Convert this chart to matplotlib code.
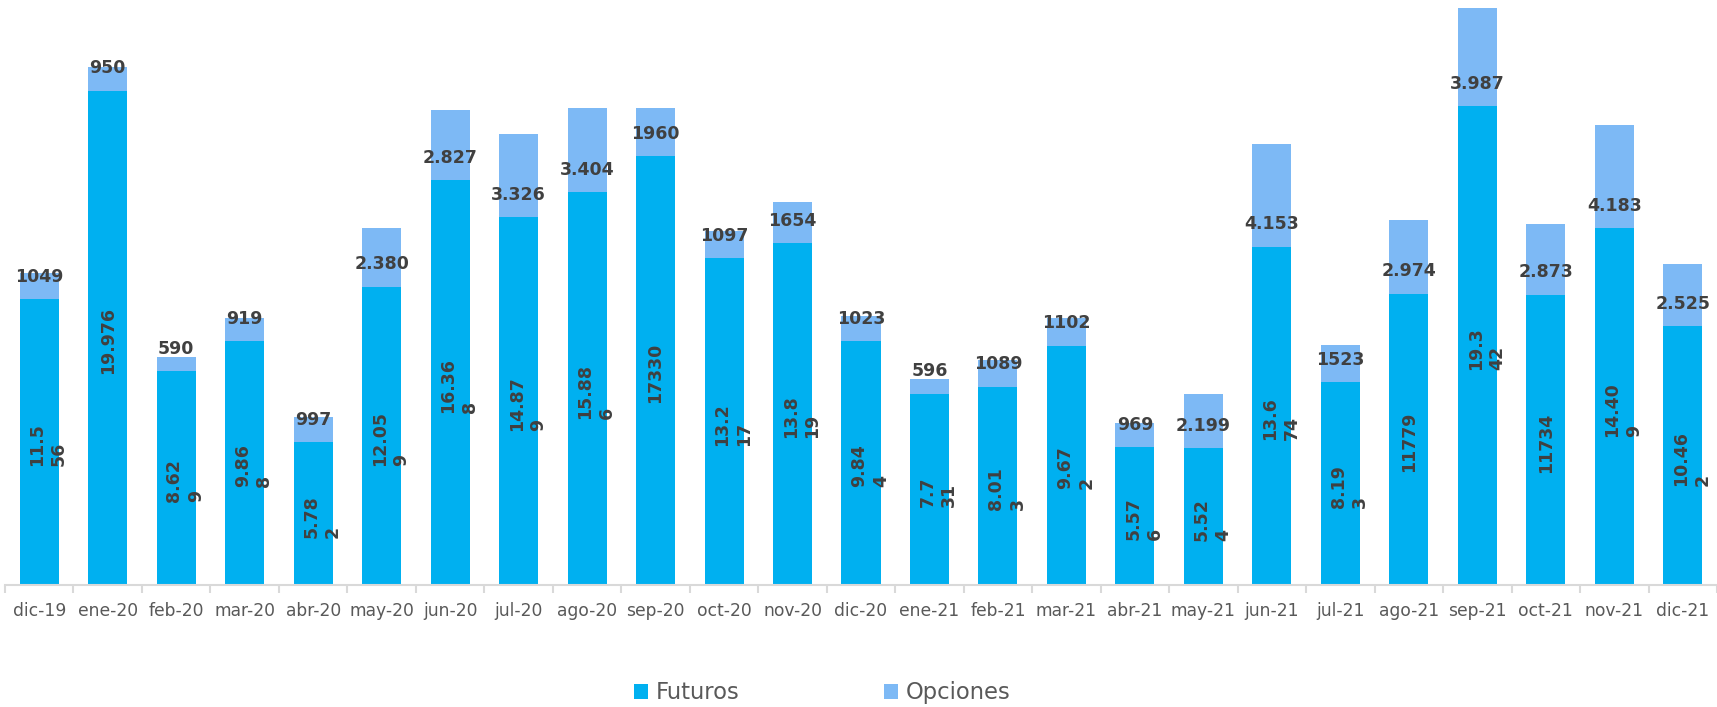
import matplotlib
matplotlib.use("Agg")
import matplotlib.pyplot as plt
import numpy as np

meses = ["dic-19", "ene-20", "feb-20", "mar-20", "abr-20", "may-20", "jun-20", "jul-20",
         "ago-20", "sep-20", "oct-20", "nov-20", "dic-20", "ene-21", "feb-21", "mar-21",
         "abr-21", "may-21", "jun-21", "jul-21", "ago-21", "sep-21", "oct-21", "nov-21", "dic-21"]

futuros = [11556, 19976, 8629, 9868, 5782, 12059, 16368, 14879, 15886, 17330, 13217, 13819,
           9844, 7731, 8013, 9672, 5576, 5524, 13674, 8193, 11779, 19342, 11734, 14409, 10462]
opciones = [1049, 950, 590, 919, 997, 2380, 2827, 3326, 3404, 1960, 1097, 1654,
            1023, 596, 1089, 1102, 969, 2199, 4153, 1523, 2974, 3987, 2873, 4183, 2525]

# labels as they appear in the chart (wrapped like the original)
fut_labels = ["11.5\n56", "19.976", "8.62\n9", "9.86\n8", "5.78\n2", "12.05\n9", "16.36\n8",
              "14.87\n9", "15.88\n6", "17330", "13.2\n17", "13.8\n19", "9.84\n4", "7.7\n31",
              "8.01\n3", "9.67\n2", "5.57\n6", "5.52\n4", "13.6\n74", "8.19\n3", "11779",
              "19.3\n42", "11734", "14.40\n9", "10.46\n2"]
opc_labels = ["1049", "950", "590", "919", "997", "2.380", "2.827", "3.326", "3.404", "1960",
              "1097", "1654", "1023", "596", "1089", "1102", "969", "2.199", "4.153", "1523",
              "2.974", "3.987", "2.873", "4.183", "2.525"]

c_fut = "#00B0F0"
c_opc = "#7DB9F5"
txt = "#404040"

fig = plt.figure(figsize=(17.17, 7.07), dpi=100)
ax = fig.add_axes([5 / 1717, 1 - 585 / 707, 1 - 5 / 1717, 585 / 707])

x = np.arange(len(meses))
w = 0.57
ax.bar(x, futuros, width=w, color=c_fut, label="Futuros")
ax.bar(x, opciones, width=w, bottom=futuros, color=c_opc, label="Opciones")

for i in range(len(meses)):
    dx = 6.5 if "\n" in fut_labels[i] else 0
    ax.annotate(fut_labels[i], (x[i], futuros[i] / 2), xytext=(dx, -2), textcoords="offset points",
                rotation=90, ha="center", va="center", multialignment="left",
                fontsize=12.5, fontweight="bold", color=txt, linespacing=1.25)
    ax.annotate(opc_labels[i], (x[i], futuros[i]), xytext=(0, 16), textcoords="offset points",
                ha="center", va="center", fontsize=12.5, fontweight="bold", color=txt)

ax.set_xlim(-0.5, len(meses) - 0.5)
ax.set_ylim(0, 23640)
ax.set_yticks([])
for s in ["top", "right", "left"]:
    ax.spines[s].set_visible(False)
ax.spines["bottom"].set_color("#D9D9D9")
ax.spines["bottom"].set_linewidth(1.5)

ax.set_xticks(x)
ax.set_xticklabels(meses, fontsize=12.3, color="#595959")
ax.tick_params(axis="x", which="major", length=0, pad=12)
ax.set_xticks(np.arange(-0.5, len(meses), 1), minor=True)
ax.tick_params(axis="x", which="minor", length=6, width=1.5, color="#D9D9D9")

fig.legend(loc="center", bbox_to_anchor=(0.479, 0.02), ncol=2, frameon=False,
           fontsize=16.3, labelcolor="#595959", handlelength=0.6, handleheight=0.6,
           handletextpad=0.35, columnspacing=6.4)

fig.savefig("out.png", dpi=100)
